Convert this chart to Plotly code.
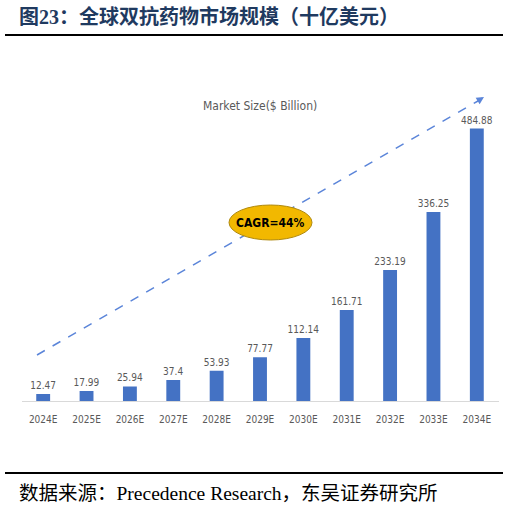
import plotly.graph_objects as go

# market size, billion USD
years = ["2024E", "2025E", "2026E", "2027E", "2028E", "2029E",
         "2030E", "2031E", "2032E", "2033E", "2034E"]
market_size = [12.47, 17.99, 25.94, 37.4, 53.93, 77.77,
               112.14, 161.71, 233.19, 336.25, 484.88]
value_labels = ["12.47", "17.99", "25.94", "37.4", "53.93", "77.77",
                "112.14", "161.71", "233.19", "336.25", "484.88"]

title_text = "图23：全球双抗药物市场规模（十亿美元）"
source_text = "数据来源：Precedence Research，东吴证券研究所"
series_name = "Market Size($ Billion)"
cagr_text = "CAGR=44%"

W, H = 510, 507
NARROW = "DejaVu Sans Condensed, Liberation Sans Narrow, Roboto, sans-serif"


def px(x, y):
    # pixel position -> paper coords
    return x / W, 1 - y / H


fig = go.Figure()
fig.add_trace(go.Bar(
    x=years, y=market_size,
    width=0.32,
    marker=dict(color="#4472c4", line=dict(width=0)),
    text=value_labels, textposition="outside", cliponaxis=False, constraintext="none",
    textfont=dict(family=NARROW, size=10, color="#595959"),
))

x0, _ = px(21.5, 0)
x1, _ = px(498.5, 0)
_, yb = px(0, 401)
_, yt = px(0, 60)

fig.update_layout(
    width=W, height=H,
    margin=dict(l=0, r=0, t=0, b=0),
    paper_bgcolor="white", plot_bgcolor="white",
    showlegend=False,
    xaxis=dict(domain=[x0, x1], range=[-0.5, 10.5], showline=True, linecolor="#d9d9d9",
               linewidth=1, showgrid=False, ticks="outside", ticklen=9, tickcolor="white",
               tickfont=dict(family=NARROW, size=10, color="#595959")),
    yaxis=dict(domain=[yb, yt], range=[0, 341 / 0.562], visible=False),
)

# title and rules
fig.add_annotation(x=px(17, 0)[0], y=px(0, 16)[1], xref="paper", yref="paper",
                   text="<b>" + title_text + "</b>", showarrow=False, xanchor="left", yanchor="middle",
                   font=dict(family="Liberation Serif, Noto Sans CJK SC", size=20, color="#1f3a60"))
for yy in (35, 473):
    a, b = px(5, yy)
    c, _ = px(503, yy)
    fig.add_shape(type="line", xref="paper", yref="paper", x0=a, y0=b, x1=c, y1=b,
                  line=dict(color="black", width=2))
fig.add_annotation(x=px(17, 0)[0], y=px(0, 493)[1], xref="paper", yref="paper",
                   text=source_text, showarrow=False, xanchor="left", yanchor="middle",
                   font=dict(family="Liberation Serif, Noto Sans CJK SC", size=19.5, color="black"))

# series caption
fig.add_annotation(x=px(260, 0)[0], y=px(0, 97)[1], xref="paper", yref="paper",
                   text=series_name, showarrow=False,
                   font=dict(family=NARROW, size=12, color="#595959"))

# dashed trend arrow
sx, sy = px(37, 355)
ex, ey = px(478, 101)
fig.add_shape(type="line", xref="paper", yref="paper", x0=sx, y0=sy, x1=ex, y1=ey,
              line=dict(color="#5b85d9", width=1.5, dash="dash"))
hx, hy = px(484, 97)
fig.add_annotation(x=hx, y=hy, xref="paper", yref="paper", ax=-8, ay=5, text="",
                   showarrow=True, arrowhead=2, arrowsize=1, arrowwidth=1.5, arrowcolor="#5b85d9")

# CAGR bubble
ex0, ey0 = px(229, 205)
ex1, ey1 = px(312, 240)
fig.add_shape(type="circle", xref="paper", yref="paper", x0=ex0, y0=ey1, x1=ex1, y1=ey0,
              fillcolor="#f2b800", line=dict(color="#b08a10", width=1))
fig.add_annotation(x=(ex0 + ex1) / 2, y=(ey0 + ey1) / 2, xref="paper", yref="paper",
                   text="<b>" + cagr_text + "</b>", showarrow=False,
                   font=dict(family=NARROW, size=12, color="black"))

fig.write_html("out.html", config={"displayModeBar": False},
               post_script="document.body.style.margin='0';")
